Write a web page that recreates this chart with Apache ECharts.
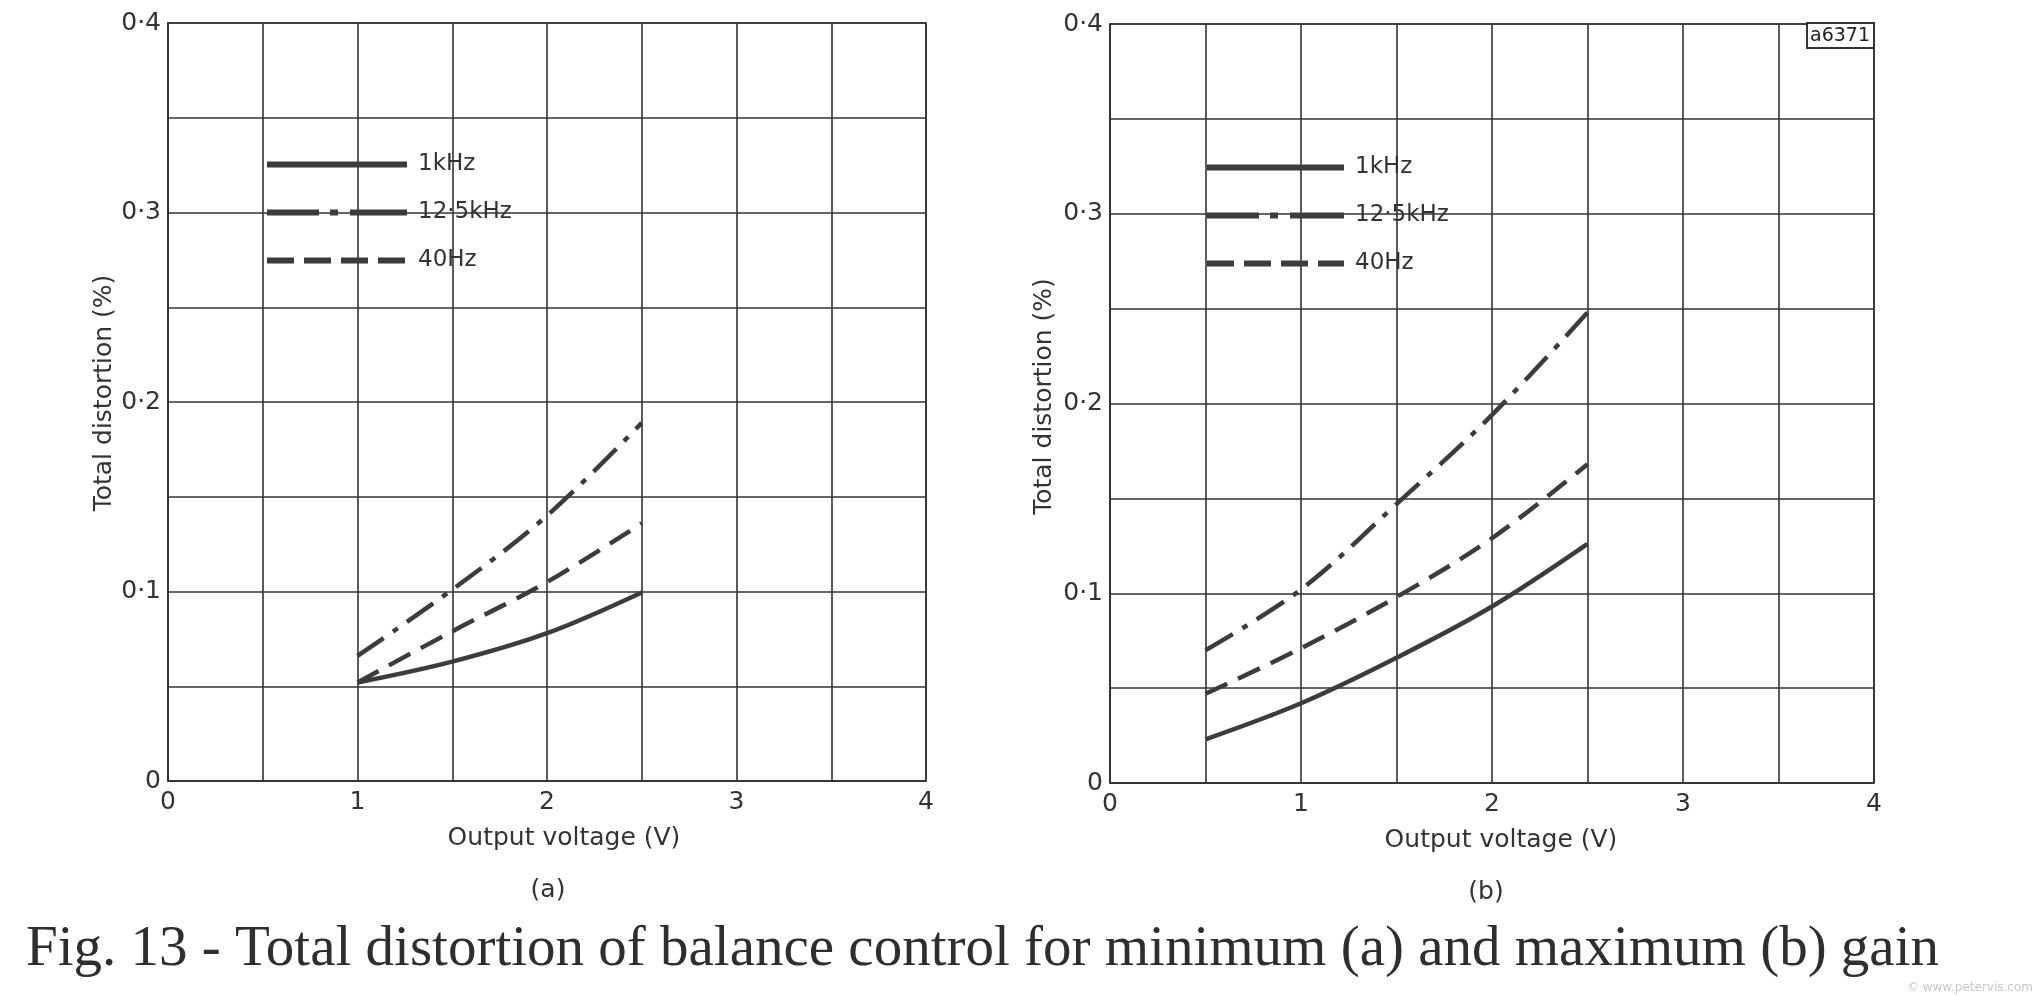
<!DOCTYPE html>
<html>
<head>
<meta charset="utf-8">
<script src="https://cdn.jsdelivr.net/npm/echarts@6/dist/echarts.min.js"></script>
<style>
html,body{margin:0;padding:0;background:#fff;}
#chart{width:2038px;height:997px;}
</style>
</head>
<body>
<div id="chart"></div>
<script>
// ---- data ----
var seriesNames = ['1kHz', '12·5kHz', '40Hz'];
var xA = [1, 1.5, 2, 2.5];
var a1k = [0.052, 0.063, 0.078, 0.0995];
var a12k = [0.066, 0.101, 0.140, 0.189];
var a40 = [0.052, 0.079, 0.105, 0.136];

var xB = [0.5, 1, 1.5, 2, 2.5];
var b1k = [0.023, 0.042, 0.066, 0.093, 0.126];
var b12k = [0.070, 0.102, 0.147, 0.194, 0.248];
var b40 = [0.047, 0.071, 0.098, 0.129, 0.168];

var xTickLabels = ['0', '1', '2', '3', '4'];
var yTickLabels = ['0', '0·1', '0·2', '0·3', '0·4'];
var xAxisTitle = 'Output voltage (V)';
var yAxisTitle = 'Total distortion (%)';
var panelLabels = ['(a)', '(b)'];
var caption = 'Fig. 13 - Total distortion of balance control for minimum (a) and maximum (b) gain';
var figCode = 'a6371';
var watermark = '© www.petervis.com';

// ---- styling ----
var INK = '#333';
var CURVE = '#3c3c3c';
var SANS = '"DejaVu Sans", sans-serif';
var dashStyles = [
  'solid',
  [32, 11, 6, 11],
  [24, 12]
];
var legendDash = [
  'solid',
  [52, 11, 8, 12, 60],
  [27, 10]
];

function pairs(xs, ys) { return xs.map(function (x, i) { return [x, ys[i]]; }); }

function xLabel(v) {
  var r = Math.round(v * 10) / 10;
  if (Math.abs(r - Math.round(r)) < 1e-6) return xTickLabels[Math.round(r)];
  return '';
}
function yLabel(v) {
  var k = Math.round(v * 100);
  if (k % 10 === 0) return yTickLabels[k / 10];
  return '';
}

function makeX(idx, pad) {
  return {
    gridIndex: idx, type: 'value', min: 0, max: 4, interval: 0.5,
    name: xAxisTitle, nameLocation: 'middle', nameGap: 45,
    nameTextStyle: { fontFamily: SANS, fontSize: 25, color: INK, padding: [0, 0, 0, pad] },
    axisLine: { show: true, lineStyle: { color: INK, width: 1.6 } },
    axisTick: { show: false },
    axisLabel: { formatter: xLabel, fontFamily: SANS, fontSize: 25, color: INK, margin: 9, showMinLabel: true, showMaxLabel: true },
    splitLine: { show: true, lineStyle: { color: INK, width: 1.6 } }
  };
}
function makeY(idx, gap, pad) {
  return {
    gridIndex: idx, type: 'value', min: 0, max: 0.4, interval: 0.05,
    name: yAxisTitle, nameLocation: 'middle', nameGap: gap, nameRotate: 90,
    nameTextStyle: { fontFamily: SANS, fontSize: 25, color: INK, padding: [0, 0, 0, pad] },
    axisLine: { show: true, lineStyle: { color: INK, width: 1.6 } },
    axisTick: { show: false },
    axisLabel: { formatter: yLabel, fontFamily: SANS, fontSize: 25, color: INK, margin: 7, showMinLabel: true, showMaxLabel: true },
    splitLine: { show: true, lineStyle: { color: INK, width: 1.6 } }
  };
}
function makeSeries(name, data, gi, k) {
  return {
    name: name, type: 'line', xAxisIndex: gi, yAxisIndex: gi,
    data: data, smooth: 0.35, symbol: 'none', silent: true,
    lineStyle: { color: CURVE, width: 4.5, type: dashStyles[k], cap: 'butt' },
    itemStyle: { color: CURVE },
    z: 5
  };
}
function makeLegend(left, top, width) {
  return {
    left: left, top: top, orient: 'vertical', padding: 0,
    data: seriesNames.map(function (n, k) {
      return { name: n, lineStyle: { type: legendDash[k], width: 6, cap: 'butt' } };
    }),
    itemWidth: width, itemHeight: 22, itemGap: 25,
    selectedMode: false,
    lineStyle: { width: 6 },
    itemStyle: { opacity: 0 },
    textStyle: { fontFamily: SANS, fontSize: 23, color: INK, lineHeight: 22, padding: [0, 0, 0, 6] }
  };
}

var option = {
  backgroundColor: '#fff',
  animation: false,
  grid: [
    { left: 168, top: 23, width: 758, height: 758, show: true, borderColor: INK, borderWidth: 1.6 },
    { left: 1110, top: 24, width: 764, height: 759, show: true, borderColor: INK, borderWidth: 1.6 }
  ],
  xAxis: [makeX(0, 34), makeX(1, 18)],
  yAxis: [makeY(0, 51, 18), makeY(1, 53, 14)],
  legend: [makeLegend(264, 153, 140), makeLegend(1204, 156, 137)],
  title: [
    { text: panelLabels[0], left: 548, top: 878, padding: 0, textAlign: 'center', textStyle: { fontFamily: SANS, fontSize: 25, fontWeight: 'normal', color: INK } },
    { text: panelLabels[1], left: 1486, top: 880, padding: 0, textAlign: 'center', textStyle: { fontFamily: SANS, fontSize: 25, fontWeight: 'normal', color: INK } }
  ],
  graphic: [
    { type: 'rect', shape: { x: 1807, y: 23, width: 67, height: 25 }, style: { fill: '#fff', stroke: INK, lineWidth: 2 }, z: 10 },
    { type: 'text', x: 1840, y: 36, style: { text: figCode, fontFamily: SANS, fontSize: 19, fill: '#222', align: 'center', verticalAlign: 'middle' }, z: 11 },
    { type: 'text', x: 26, y: 950, style: { text: caption, fontFamily: '"Liberation Serif", serif', fontSize: 57, fill: '#2e2e2e', align: 'left', verticalAlign: 'middle' } },
    { type: 'text', x: 2033, y: 988, style: { text: watermark, fontFamily: SANS, fontSize: 12, fill: '#c8c8c8', align: 'right', verticalAlign: 'middle' } }
  ],
  series: [
    makeSeries(seriesNames[0], pairs(xA, a1k), 0, 0),
    makeSeries(seriesNames[1], pairs(xA, a12k), 0, 1),
    makeSeries(seriesNames[2], pairs(xA, a40), 0, 2),
    makeSeries(seriesNames[0], pairs(xB, b1k), 1, 0),
    makeSeries(seriesNames[1], pairs(xB, b12k), 1, 1),
    makeSeries(seriesNames[2], pairs(xB, b40), 1, 2)
  ]
};

var chart = echarts.init(document.getElementById('chart'), null, { renderer: 'canvas' });
chart.setOption(option);
</script>
</body>
</html>
